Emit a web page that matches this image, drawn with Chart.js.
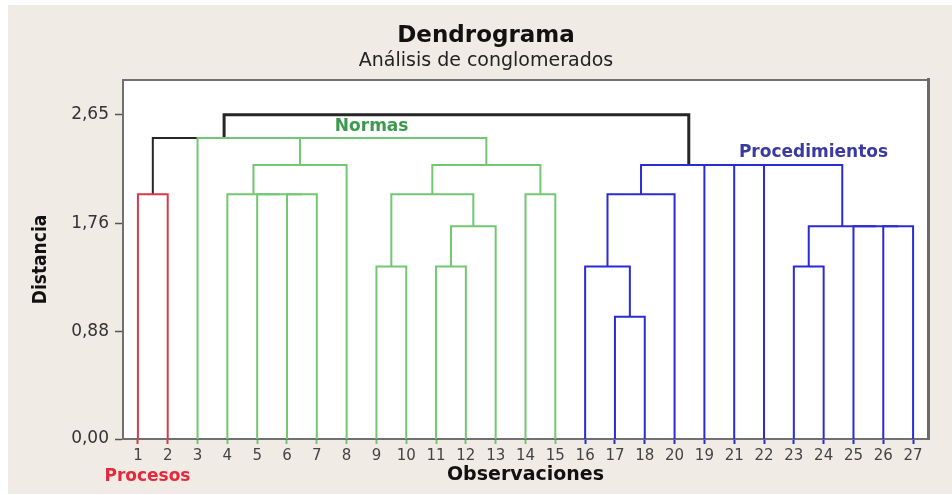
<!DOCTYPE html>
<html><head><meta charset="utf-8">
<script src="https://cdn.jsdelivr.net/npm/chart.js@4.4.0/dist/chart.umd.min.js"></script>
<style>
html,body{margin:0;padding:0;background:#fff;}
#wrap{position:absolute;left:8px;top:5px;width:944px;height:489px;background:#f0ebe5;}
canvas{display:block;}
</style></head><body>
<div id="wrap"><canvas id="c" width="944" height="489"></canvas></div>
<script>
// ---- data ----
const leafLabels = ['1','2','3','4','5','6','7','8','9','10','11','12','13','14','15','16','17','18','20','19','21','22','23','24','25','26','27'];
const leafGroups = ['Procesos','Procesos',
  'Normas','Normas','Normas','Normas','Normas','Normas','Normas','Normas','Normas','Normas','Normas','Normas','Normas',
  'Procedimientos','Procedimientos','Procedimientos','Procedimientos','Procedimientos','Procedimientos','Procedimientos','Procedimientos','Procedimientos','Procedimientos','Procedimientos','Procedimientos'];
// merges (scipy-style: index < 27 = leaf position-1, index >= 27 = earlier merge)
const mergeA      = [0, 5, 4, 3, 30, 8, 10, 33, 32, 13, 35, 31, 2, 27, 16, 15, 42, 22, 25, 24, 44, 21, 20, 19, 43, 40];
const mergeB      = [1, 6, 28, 29, 7, 9, 11, 12, 34, 14, 36, 37, 38, 39, 17, 41, 18, 23, 26, 45, 46, 47, 48, 49, 50, 51];
const mergeHeight = [2.00, 2.00, 2.00, 2.00, 2.24, 1.41, 1.41, 1.74, 2.00, 2.00, 2.24, 2.46, 2.46, 2.46,
                     1.00, 1.41, 2.00, 1.41, 1.74, 1.74, 1.74, 2.24, 2.24, 2.24, 2.24, 2.65];
const mergeGroup  = ['Procesos','Normas','Normas','Normas','Normas','Normas','Normas','Normas','Normas','Normas','Normas','Normas','Normas','link',
                     'Procedimientos','Procedimientos','Procedimientos','Procedimientos','Procedimientos','Procedimientos','Procedimientos','Procedimientos','Procedimientos','Procedimientos','Procedimientos','link'];
const yTickValues = [0, 0.88, 1.76, 2.65];
const yTickLabels = ['0,00', '0,88', '1,76', '2,65'];
const clusterNames = ['Procesos', 'Normas', 'Procedimientos'];

// ---- styles ----
const lineColor = {Procesos:'#d63a48', Normas:'#72c872', Procedimientos:'#2b2bd6', link:'#262626'};
const textColor = {Procesos:'#e5283c', Normas:'#3c9a4c', Procedimientos:'#3a3aa0'};
const labelAnchor = {Procesos:{x:1.32, y:-0.307}, Normas:{x:8.84, y:2.551}, Procedimientos:{x:23.66, y:2.338}};

// ---- build dendrogram segments ----
const nodeX = leafLabels.map((_, i) => i + 1);
const nodeH = leafLabels.map(() => 0);
const datasets = [];
const lastMerge = mergeA.length - 1;
mergeA.forEach((a, k) => {
  const b = mergeB[k], h = mergeHeight[k], g = mergeGroup[k];
  const xa = nodeX[a], xb = nodeX[b];
  datasets.push({
    data: [{x: xa, y: nodeH[a]}, {x: xa, y: h}, {x: xb, y: h}, {x: xb, y: nodeH[b]}],
    showLine: true,
    borderColor: lineColor[g],
    borderWidth: k === lastMerge ? 3 : 2,
    borderJoinStyle: 'miter',
    pointRadius: 0, pointHoverRadius: 0,
    order: g === 'link' ? 2 : 1
  });
  nodeX.push((xa + xb) / 2);
  nodeH.push(h);
});

const bgPlugin = {
  id: 'bg',
  beforeDraw(chart) {
    const {ctx, chartArea: a} = chart;
    ctx.save(); ctx.fillStyle = '#ffffff';
    ctx.fillRect(a.left, a.top, a.right - a.left, a.bottom - a.top);
    ctx.restore();
  }
};
const clusterLabelPlugin = {
  id: 'clusterLabels',
  afterDatasetsDraw(chart) {
    const {ctx, scales} = chart;
    ctx.save();
    ctx.font = 'bold 17px "DejaVu Sans"';
    ctx.textAlign = 'center'; ctx.textBaseline = 'middle';
    clusterNames.forEach(name => {
      const p = labelAnchor[name];
      ctx.fillStyle = textColor[name];
      ctx.fillText(name, scales.x.getPixelForValue(p.x), scales.y.getPixelForValue(p.y));
    });
    ctx.restore();
  }
};

Chart.defaults.font.family = '"DejaVu Sans", Verdana, sans-serif';
new Chart(document.getElementById('c'), {
  type: 'scatter',
  data: {datasets},
  options: {
    responsive: false, animation: false, devicePixelRatio: 1,
    layout: {padding: {left: 12, right: 0, top: 0, bottom: 0}},
    plugins: {
      legend: {display: false}, tooltip: {enabled: false},
      title: {display: true, text: 'Dendrograma', color: '#111',
        font: {size: 23, weight: 'bold', lineHeight: 1.2}, padding: {top: 17, bottom: 0}},
      subtitle: {display: true, text: 'Análisis de conglomerados', color: '#222',
        font: {size: 19, lineHeight: 1.2}, padding: {top: 0, bottom: 0}}
    },
    scales: {
      x: {
        type: 'linear', position: 'bottom', min: 0.5, max: 27.5,
        afterBuildTicks(s) { s.ticks = leafLabels.map((_, i) => ({value: i + 1})); },
        afterFit(s) { s.height = 55; },
        ticks: {autoSkip: false, maxRotation: 0, padding: 3, color: '#444',
          font: {size: 15}, callback: (v, i) => leafLabels[i]},
        grid: {display: true, drawOnChartArea: false, drawTicks: true, tickLength: 5, tickWidth: 2,
          tickColor: c => lineColor[leafGroups[c.index]] || '#666'},
        border: {display: true, color: '#707070', width: 2},
        title: {display: true, text: 'Observaciones', color: '#111',
          font: {size: 19, weight: 'bold', lineHeight: 1.2}, padding: {top: 0, bottom: 8}}
      },
      y: {
        type: 'linear', position: 'left', min: 0, max: 2.935,
        afterBuildTicks(s) { s.ticks = yTickValues.map(v => ({value: v})); },
        afterFit(s) { s.width = 103; },
        ticks: {padding: 6, color: '#333', font: {size: 17}, callback: (v, i) => yTickLabels[i]},
        grid: {display: true, drawOnChartArea: false, drawTicks: true, tickLength: 8, tickWidth: 1.5, tickColor: '#555'},
        border: {display: true, color: '#707070', width: 2},
        title: {display: true, text: 'Distancia', color: '#111',
          font: {family: '"DejaVu Sans Condensed", "Liberation Sans", sans-serif', size: 19, weight: 'bold', lineHeight: 1.2},
          padding: {top: 10, bottom: 0}}
      },
      x2: {
        type: 'linear', position: 'top', display: true,
        afterFit(s) { s.height = 7.6; },
        grid: {display: false}, ticks: {display: false},
        border: {display: true, color: '#707070', width: 2}
      },
      y2: {
        type: 'linear', position: 'right', display: true,
        afterFit(s) { s.width = 24; },
        grid: {display: false}, ticks: {display: false},
        border: {display: true, color: '#6a6a6a', width: 3}
      }
    }
  },
  plugins: [bgPlugin, clusterLabelPlugin]
});
</script>
</body></html>
